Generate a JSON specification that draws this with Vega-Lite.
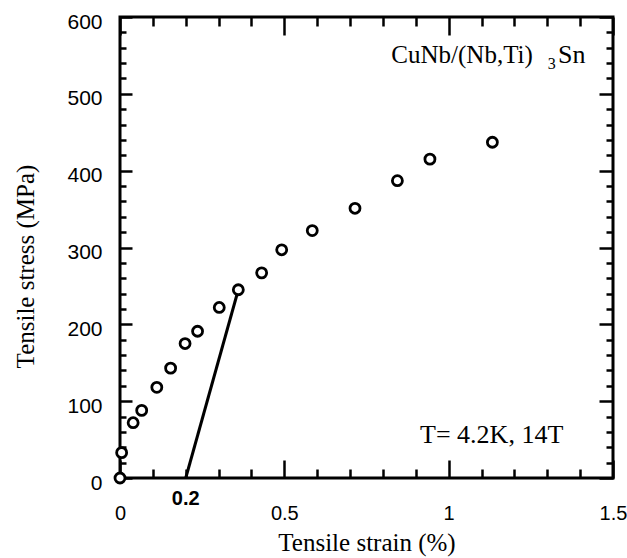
{
  "$schema": "https://vega.github.io/schema/vega-lite/v6.json",
  "width": 493,
  "height": 461,
  "autosize": {"type": "none"},
  "padding": {"left": 120, "top": 17, "right": 14, "bottom": 80},
  "background": "white",
  "config": {
    "view": {"stroke": "black", "strokeWidth": 3},
    "axis": {"grid": false, "domain": false, "labelColor": "black", "titleColor": "black", "tickColor": "black", "tickWidth": 2.5, "labelFlush": false, "labelOverlap": false, "zindex": 1}
  },
  "datasets": {
    "pts": [
      {"strain": 0, "stress": 0},
      {"strain": 0.005, "stress": 33},
      {"strain": 0.04, "stress": 72},
      {"strain": 0.066, "stress": 88},
      {"strain": 0.112, "stress": 118},
      {"strain": 0.154, "stress": 143},
      {"strain": 0.198, "stress": 175},
      {"strain": 0.236, "stress": 191},
      {"strain": 0.302, "stress": 222},
      {"strain": 0.36, "stress": 245},
      {"strain": 0.431, "stress": 267},
      {"strain": 0.492, "stress": 297},
      {"strain": 0.585, "stress": 322},
      {"strain": 0.715, "stress": 351},
      {"strain": 0.844, "stress": 387},
      {"strain": 0.943, "stress": 415},
      {"strain": 1.133, "stress": 437}
    ],
    "ln": [
      {"strain": 0.2, "stress": 0},
      {"strain": 0.36, "stress": 245}
    ]
  },
  "resolve": {"axis": {"x": "independent", "y": "independent"}},
  "layer": [
    {
      "data": {"name": "ln"},
      "mark": {"type": "line", "color": "black", "strokeWidth": 3},
      "encoding": {
        "x": {"field": "strain", "type": "quantitative", "scale": {"domain": [0, 1.5], "nice": false, "zero": false},
          "axis": {"orient": "bottom", "values": [0, 0.5, 1, 1.5], "labels": false, "tickSize": -18, "title": null}},
        "y": {"field": "stress", "type": "quantitative", "scale": {"domain": [0, 600], "nice": false, "zero": false},
          "axis": {"orient": "left", "values": [0, 100, 200, 300, 400, 500, 600], "labels": false, "tickSize": -12, "title": null}}
      }
    },
    {
      "data": {"name": "pts"},
      "mark": {"type": "point", "shape": "circle", "filled": false, "fill": "white", "fillOpacity": 1, "stroke": "black", "strokeWidth": 2.8, "size": 100, "opacity": 1},
      "encoding": {
        "x": {"field": "strain", "type": "quantitative", "scale": {"domain": [0, 1.5], "nice": false, "zero": false},
          "axis": {"orient": "bottom", "values": [0, 0.5, 1, 1.5], "format": "~g", "ticks": false, "labelFont": "Liberation Sans", "labelFontSize": 20, "labelPadding": 25,
            "title": "Tensile strain (%)", "titleFont": "Liberation Serif", "titleFontSize": 25, "titleFontWeight": "normal", "titleY": 72, "titleBaseline": "alphabetic"}},
        "y": {"field": "stress", "type": "quantitative", "scale": {"domain": [0, 600], "nice": false, "zero": false},
          "axis": {"orient": "left", "values": [0, 100, 200, 300, 400, 500, 600], "ticks": false, "labelFont": "Liberation Sans", "labelFontSize": 21, "labelPadding": 18, "labelOffset": 5,
            "title": "Tensile stress (MPa)", "titleFont": "Liberation Serif", "titleFontSize": 25, "titleFontWeight": "normal", "titleX": -87, "titleY": 249, "titleBaseline": "alphabetic"}}
      }
    },
    {
      "data": {"name": "ln"},
      "mark": {"type": "point", "opacity": 0},
      "encoding": {
        "x": {"field": "strain", "type": "quantitative", "scale": {"domain": [0, 1.5], "nice": false, "zero": false},
          "axis": {"orient": "bottom", "values": [0.1, 0.2, 0.3, 0.4, 0.6, 0.7, 0.8, 0.9, 1.1, 1.2, 1.3, 1.4], "labels": false, "tickSize": -9, "title": null}},
        "y": {"field": "stress", "type": "quantitative", "scale": {"domain": [0, 600], "nice": false, "zero": false},
          "axis": {"orient": "left", "values": [20, 40, 60, 80, 120, 140, 160, 180, 220, 240, 260, 280, 320, 340, 360, 380, 420, 440, 460, 480, 520, 540, 560, 580], "labels": false, "tickSize": -6, "title": null}}
      }
    },
    {
      "data": {"name": "ln"},
      "mark": {"type": "point", "opacity": 0},
      "encoding": {
        "x": {"field": "strain", "type": "quantitative", "scale": {"domain": [0, 1.5], "nice": false, "zero": false},
          "axis": {"orient": "top", "values": [0, 0.5, 1, 1.5], "labels": false, "tickSize": -18, "title": null}},
        "y": {"field": "stress", "type": "quantitative", "scale": {"domain": [0, 600], "nice": false, "zero": false},
          "axis": {"orient": "right", "values": [0, 100, 200, 300, 400, 500, 600], "labels": false, "tickSize": -14, "title": null}}
      }
    },
    {
      "data": {"name": "ln"},
      "mark": {"type": "point", "opacity": 0},
      "encoding": {
        "x": {"field": "strain", "type": "quantitative", "scale": {"domain": [0, 1.5], "nice": false, "zero": false},
          "axis": {"orient": "top", "values": [0.1, 0.2, 0.3, 0.4, 0.6, 0.7, 0.8, 0.9, 1.1, 1.2, 1.3, 1.4], "labels": false, "tickSize": -9, "title": null}},
        "y": {"field": "stress", "type": "quantitative", "scale": {"domain": [0, 600], "nice": false, "zero": false},
          "axis": {"orient": "right", "values": [20, 40, 60, 80, 120, 140, 160, 180, 220, 240, 260, 280, 320, 340, 360, 380, 420, 440, 460, 480, 520, 540, 560, 580], "labels": false, "tickSize": -7, "title": null}}
      }
    },
    {
      "data": {"values": [{"strain": 0.2, "stress": -27, "label": "0.2"}]},
      "mark": {"type": "text", "font": "Liberation Sans", "fontWeight": "bold", "fontSize": 20, "color": "black", "align": "center", "baseline": "middle"},
      "encoding": {
        "x": {"field": "strain", "type": "quantitative", "scale": {"domain": [0, 1.5], "nice": false, "zero": false}, "axis": null},
        "y": {"field": "stress", "type": "quantitative", "scale": {"domain": [0, 600], "nice": false, "zero": false}, "axis": null},
        "text": {"field": "label"}
      }
    },
    {
      "data": {"values": [{"strain": 1.256, "stress": 540, "label": "CuNb/(Nb,Ti)"}]},
      "mark": {"type": "text", "font": "Liberation Serif", "fontSize": 25, "color": "black", "align": "right", "baseline": "alphabetic"},
      "encoding": {
        "x": {"field": "strain", "type": "quantitative", "scale": {"domain": [0, 1.5], "nice": false, "zero": false}, "axis": null},
        "y": {"field": "stress", "type": "quantitative", "scale": {"domain": [0, 600], "nice": false, "zero": false}, "axis": null},
        "text": {"field": "label"}
      }
    },
    {
      "data": {"values": [{"strain": 1.314, "stress": 532, "label": "3"}]},
      "mark": {"type": "text", "font": "Liberation Serif", "fontSize": 16, "color": "black", "align": "center", "baseline": "alphabetic"},
      "encoding": {
        "x": {"field": "strain", "type": "quantitative", "scale": {"domain": [0, 1.5], "nice": false, "zero": false}, "axis": null},
        "y": {"field": "stress", "type": "quantitative", "scale": {"domain": [0, 600], "nice": false, "zero": false}, "axis": null},
        "text": {"field": "label"}
      }
    },
    {
      "data": {"values": [{"strain": 1.333, "stress": 540, "label": "Sn"}, {"strain": 0.913, "stress": 45.6, "label": "T= 4.2K, 14T"}]},
      "mark": {"type": "text", "font": "Liberation Serif", "fontSize": 26, "color": "black", "align": "left", "baseline": "alphabetic"},
      "encoding": {
        "x": {"field": "strain", "type": "quantitative", "scale": {"domain": [0, 1.5], "nice": false, "zero": false}, "axis": null},
        "y": {"field": "stress", "type": "quantitative", "scale": {"domain": [0, 600], "nice": false, "zero": false}, "axis": null},
        "text": {"field": "label"}
      }
    }
  ]
}
